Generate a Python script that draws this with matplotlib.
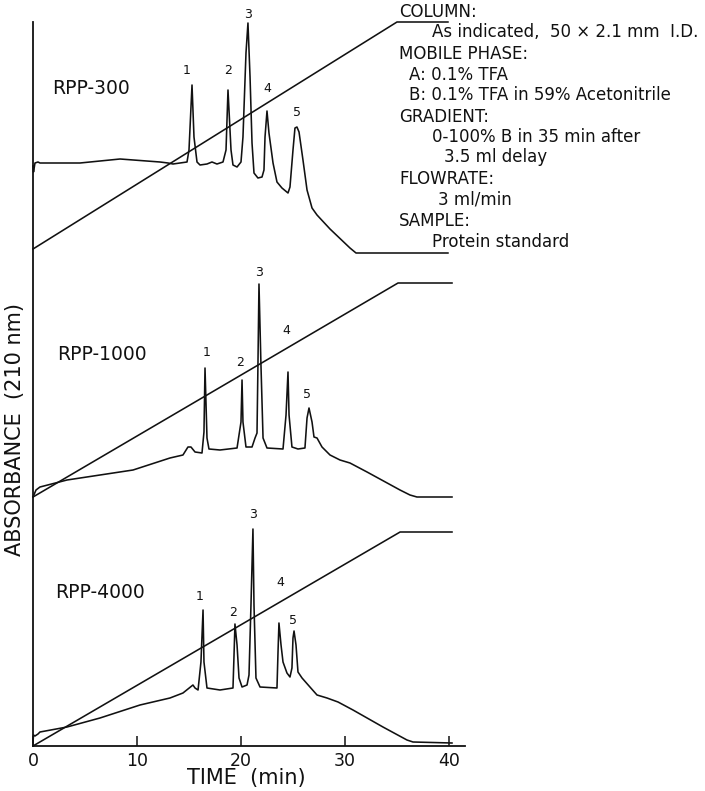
import matplotlib
matplotlib.use("Agg")
import matplotlib.pyplot as plt

plt.rcParams['font.family'] = ['DejaVu Sans']

INK = "#111111"

# ---- chromatogram traces (time in min, detector signal in arbitrary units) ----
rpp300_t = [0.00, 0.05, 0.19, 0.48, 0.67, 4.52, 8.37, 12.21, 12.98, 13.46, 14.81,
            15.00, 15.29, 15.48, 15.77, 16.06, 16.73, 17.21, 17.69, 18.27,
            18.56, 18.75, 19.04, 19.23, 19.62, 20.00,
            20.19, 20.48, 20.67, 20.87, 21.06, 21.25, 21.63, 22.02, 22.21,
            22.31, 22.50, 22.69, 23.08, 23.46, 23.94, 24.52, 24.71,
            25.00, 25.19, 25.38, 25.58, 25.96, 26.35, 26.83, 27.31, 28.56,
            30.48, 31.06, 39.90]
rpp300_y = [580, 574, 583, 584, 583, 583, 587, 584, 583, 582, 584,
            596, 661, 609, 584, 581, 582, 584, 582, 584,
            596, 656, 596, 581, 579, 584,
            609, 693, 723, 669, 603, 573, 568, 569, 576,
            609, 635, 613, 583, 564, 558, 553, 559,
            596, 618, 619, 614, 586, 556, 538, 531, 517,
            498, 493, 493]

rpp1000_t = [0.00, 0.29, 0.67, 3.27, 9.62, 13.17, 14.42, 14.90, 15.19, 15.58, 16.25,
             16.44, 16.54, 16.73, 16.92, 17.98, 19.62,
             20.00, 20.10, 20.19, 20.48, 21.06, 21.35, 21.54,
             21.63, 21.73, 21.92, 22.12, 22.50, 24.04,
             24.33, 24.52, 24.62, 24.90, 25.48, 26.15,
             26.35, 26.54, 26.83, 27.02, 27.31, 27.79, 28.56, 29.52, 30.48,
             32.12, 35.29, 36.25, 36.92, 40.29]
rpp1000_y = [249, 256, 259, 266, 276, 288, 291, 299, 299, 294, 293,
             314, 378, 308, 297, 296, 298,
             324, 366, 324, 299, 299, 308, 313,
             381, 462, 381, 308, 298, 297,
             331, 374, 331, 299, 297, 298,
             328, 338, 324, 309, 308, 299, 291, 286, 283,
             274, 256, 251, 249, 249]

rpp4000_t = [0.00, 0.05, 0.19, 0.48, 0.67, 3.27, 6.44, 10.29, 13.17, 14.42, 15.38,
             15.58, 15.87, 16.15, 16.35, 16.44, 16.73, 17.98, 19.23,
             19.33, 19.42, 19.62, 19.81, 20.10, 20.58, 20.77,
             20.96, 21.15, 21.25, 21.44, 21.83, 23.46,
             23.56, 23.65, 23.85, 24.04, 24.42, 24.71, 24.90,
             25.00, 25.10, 25.29, 25.48, 25.87, 26.63, 27.31, 28.27, 29.33,
             30.77, 33.65, 35.96, 36.54, 40.29]
rpp4000_y = [4, 11, 10, 12, 14, 19, 28, 41, 48, 53, 61,
             58, 56, 84, 136, 84, 58, 56, 58,
             91, 122, 101, 68, 59, 61, 71,
             141, 217, 141, 68, 59, 58,
             94, 123, 101, 84, 73, 69, 78,
             108, 115, 101, 74, 68, 59, 51, 48, 44,
             36, 19, 6, 4, 3]

# ---- %B gradient profiles drawn with each run ----
grad300_t, grad300_y = [0.0, 35.0, 39.9], [497, 724, 724]
grad1000_t, grad1000_y = [0.0, 35.1, 40.29], [249, 463, 463]
grad4000_t, grad4000_y = [0.0, 35.3, 40.29], [0, 214, 214]

# ---- column names and peak numbering ----
columns = ["RPP-300", "RPP-1000", "RPP-4000"]
column_label_pos = [(1.83, 658), (2.31, 391), (2.12, 153)]
peak_names = ["1", "2", "3", "4", "5"]
peak_label_pos = [
    [(14.81, 675), (18.75, 675), (20.67, 731), (22.50, 658), (25.38, 634)],
    [(16.73, 393), (19.90, 384), (21.73, 473), (24.33, 416), (26.35, 351)],
    [(16.06, 149), (19.23, 134), (21.15, 231), (23.75, 164), (25.00, 126)],
]

x_ticks = [0, 10, 20, 30, 40]

conditions = [
    ("COLUMN:", 0),
    ("As indicated,  50 × 2.1 mm  I.D.", 1),
    ("MOBILE PHASE:", 0),
    ("A: 0.1% TFA", 2),
    ("B: 0.1% TFA in 59% Acetonitrile", 2),
    ("GRADIENT:", 0),
    ("0-100% B in 35 min after", 1),
    ("3.5 ml delay", 3),
    ("FLOWRATE:", 0),
    ("3 ml/min", 4),
    ("SAMPLE:", 0),
    ("Protein standard", 1),
]
cond_x = {0: 399, 1: 432, 2: 409, 3: 444, 4: 438}
cond_y = [12, 32, 54, 75, 95, 117, 137, 157, 179, 200, 221, 242]

W, H = 705, 791
fig = plt.figure(figsize=(W / 100, H / 100), dpi=100)
ax = fig.add_axes([33 / W, 45 / H, (465 - 33) / W, (746 - 22) / H])
ax.set_xlim(0, 41.54)
ax.set_ylim(0, 724)

lw = 1.15
for t, y in [(rpp300_t, rpp300_y), (rpp1000_t, rpp1000_y), (rpp4000_t, rpp4000_y)]:
    ax.plot(t, y, color=INK, lw=lw, clip_on=False, solid_joinstyle="round")
for t, y in [(grad300_t, grad300_y), (grad1000_t, grad1000_y), (grad4000_t, grad4000_y)]:
    ax.plot(t, y, color=INK, lw=lw, clip_on=False)

for name, (tx, ty) in zip(columns, column_label_pos):
    ax.text(tx, ty, name, fontsize=13.5, color=INK, ha="left", va="center")

for row in peak_label_pos:
    for name, (tx, ty) in zip(peak_names, row):
        ax.text(tx, ty, name, fontsize=9, color=INK, ha="center", va="center",
                clip_on=False)

for side in ("top", "right"):
    ax.spines[side].set_visible(False)
for side in ("left", "bottom"):
    ax.spines[side].set_linewidth(1.3)
    ax.spines[side].set_color(INK)

ax.set_yticks([])
ax.set_xticks(x_ticks)
ax.set_xticklabels([str(v) for v in x_ticks])
ax.tick_params(axis="x", direction="in", length=7, width=1.1, colors=INK,
               labelsize=12.5, pad=4)

fig.text(246 / W, 1 - 778 / H, "TIME  (min)", fontsize=15, color=INK,
         ha="center", va="center")
fig.text(15 / W, 1 - 429 / H, "ABSORBANCE  (210 nm)", fontsize=15, color=INK,
         ha="center", va="center", rotation=90)

for (line, level), py in zip(conditions, cond_y):
    fig.text(cond_x[level] / W, 1 - py / H, line, fontsize=12, color=INK,
             ha="left", va="center")

fig.savefig("out.png", dpi=100)
